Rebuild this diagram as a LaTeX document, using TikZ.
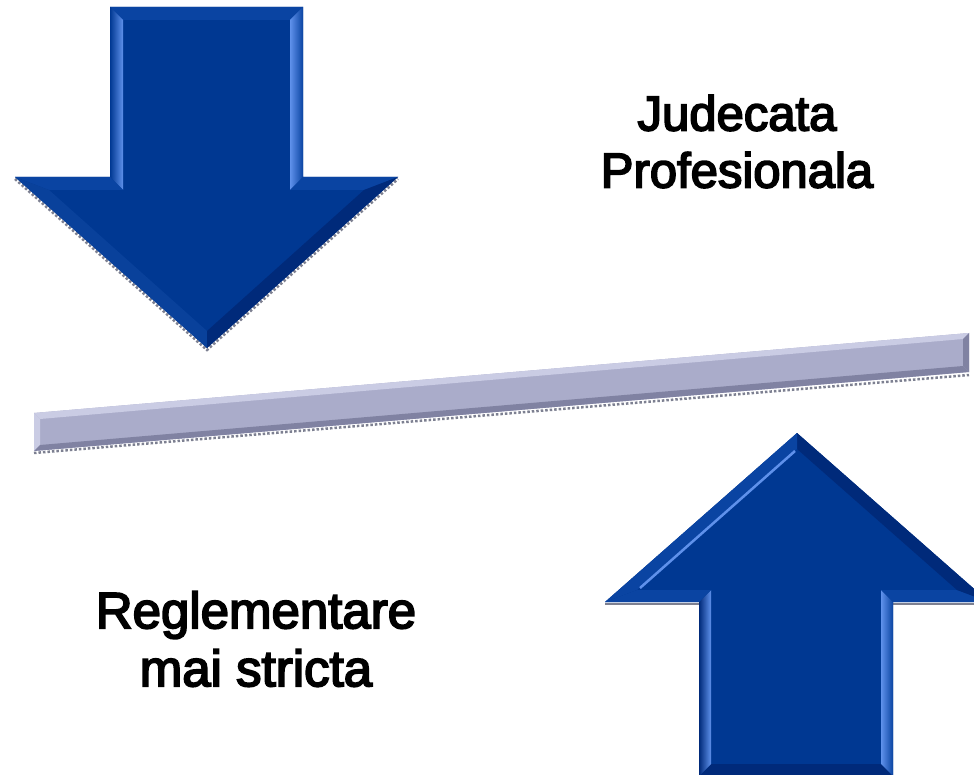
\documentclass[tikz,border=0pt]{standalone}
\usepackage{fontspec}
\setmainfont{Liberation Sans}
\newfontfamily\labelfont[FakeBold=3.5]{Liberation Sans}
\definecolor{arrowblue}{RGB}{0,56,146}
\definecolor{arrowlight}{RGB}{95,145,235}
\definecolor{arrowmid}{RGB}{10,68,162}
\definecolor{arrowdark}{RGB}{0,42,122}
\definecolor{barfill}{RGB}{170,172,202}
\definecolor{barlight}{RGB}{202,204,228}
\definecolor{bardark}{RGB}{128,130,162}
\definecolor{shadowgray}{RGB}{125,128,145}
\begin{document}
\begin{tikzpicture}[x=1pt,y=-1pt,
  labeltext/.style={font=\labelfont\fontsize{49}{57}\selectfont, align=center, inner sep=0pt},
  shadowline/.style={shadowgray, line width=2.5pt, dash pattern=on 2.5pt off 2pt}]
  % Page
  \clip (0,0) rectangle (974,775);
  \fill[white] (0,0) rectangle (974,775);

  % Draw down arrow
  \draw[shadowline] (15,179) -- (207,350) -- (398,179);
  \fill[arrowblue] (110,7) -- (303,7) -- (303,177) -- (398,177) -- (207,348) -- (15,177) -- (110,177) -- cycle;
  % Bevel of down arrow
  \fill[arrowmid] (110,7) -- (303,7) -- (290,20) -- (123,20) -- cycle;
  \shade[left color=arrowblue, right color=arrowlight] (110,7) -- (123,20) -- (123,190) -- (110,177) -- cycle;
  \shade[left color=arrowlight, right color=arrowmid] (303,7) -- (303,177) -- (290,190) -- (290,20) -- cycle;
  \fill[arrowmid] (303,177) -- (398,177) -- (364,190) -- (290,190) -- cycle;
  \fill[arrowmid] (15,177) -- (110,177) -- (123,190) -- (49,190) -- cycle;
  \fill[arrowblue!90!arrowlight] (15,177) -- (207,348) -- (207,331) -- (49,190) -- cycle;
  \fill[arrowdark] (398,177) -- (207,348) -- (207,331) -- (364,190) -- cycle;

  % Draw bar
  \draw[shadowline] (34,453) -- (969,375);
  \fill[barfill] (34,413) -- (969,333) -- (969,372) -- (34,451) -- cycle;
  % Bevel of bar
  \fill[barlight] (34,413) -- (969,333) -- (963,339) -- (40,419) -- cycle;
  \fill[barlight] (34,413) -- (40,419) -- (40,445) -- (34,451) -- cycle;
  \fill[bardark] (34,451) -- (969,372) -- (963,366) -- (40,445) -- cycle;
  \fill[bardark] (969,333) -- (969,372) -- (963,366) -- (963,339) -- cycle;

  % Draw up arrow
  \draw[shadowgray, line width=2pt] (605,603.5) -- (699,603.5);
  \draw[shadowgray, line width=2pt] (893,603.5) -- (989,603.5);
  \fill[arrowblue] (699,776) -- (893,776) -- (893,602) -- (989,602) -- (797,433) -- (605,602) -- (699,602) -- cycle;
  % Bevel of up arrow
  \fill[arrowdark] (699,776) -- (893,776) -- (881,764) -- (711,764) -- cycle;
  \shade[left color=arrowdark, right color=arrowlight] (699,776) -- (699,602) -- (711,590) -- (711,764) -- cycle;
  \shade[left color=arrowlight, right color=arrowmid] (893,776) -- (893,602) -- (881,590) -- (881,764) -- cycle;
  \fill[arrowmid] (893,602) -- (989,602) -- (957,590) -- (881,590) -- cycle;
  \fill[arrowmid] (605,602) -- (699,602) -- (711,590) -- (637,590) -- cycle;
  \fill[arrowdark] (989,602) -- (797,433) -- (797,449) -- (957,590) -- cycle;
  \fill[arrowmid] (605,602) -- (797,433) -- (797,449) -- (637,590) -- cycle;
  \draw[arrowlight, line width=2.5pt] (640,588) -- (795,451);

  % Labels
  \node[labeltext] (judecata) at (737,141.5) {Judecata\\Profesionala};
  \node[labeltext, font=\labelfont\fontsize{51}{58}\selectfont] (reglementare) at (256,639) {Reglementare\\mai stricta};
\end{tikzpicture}
\end{document}
